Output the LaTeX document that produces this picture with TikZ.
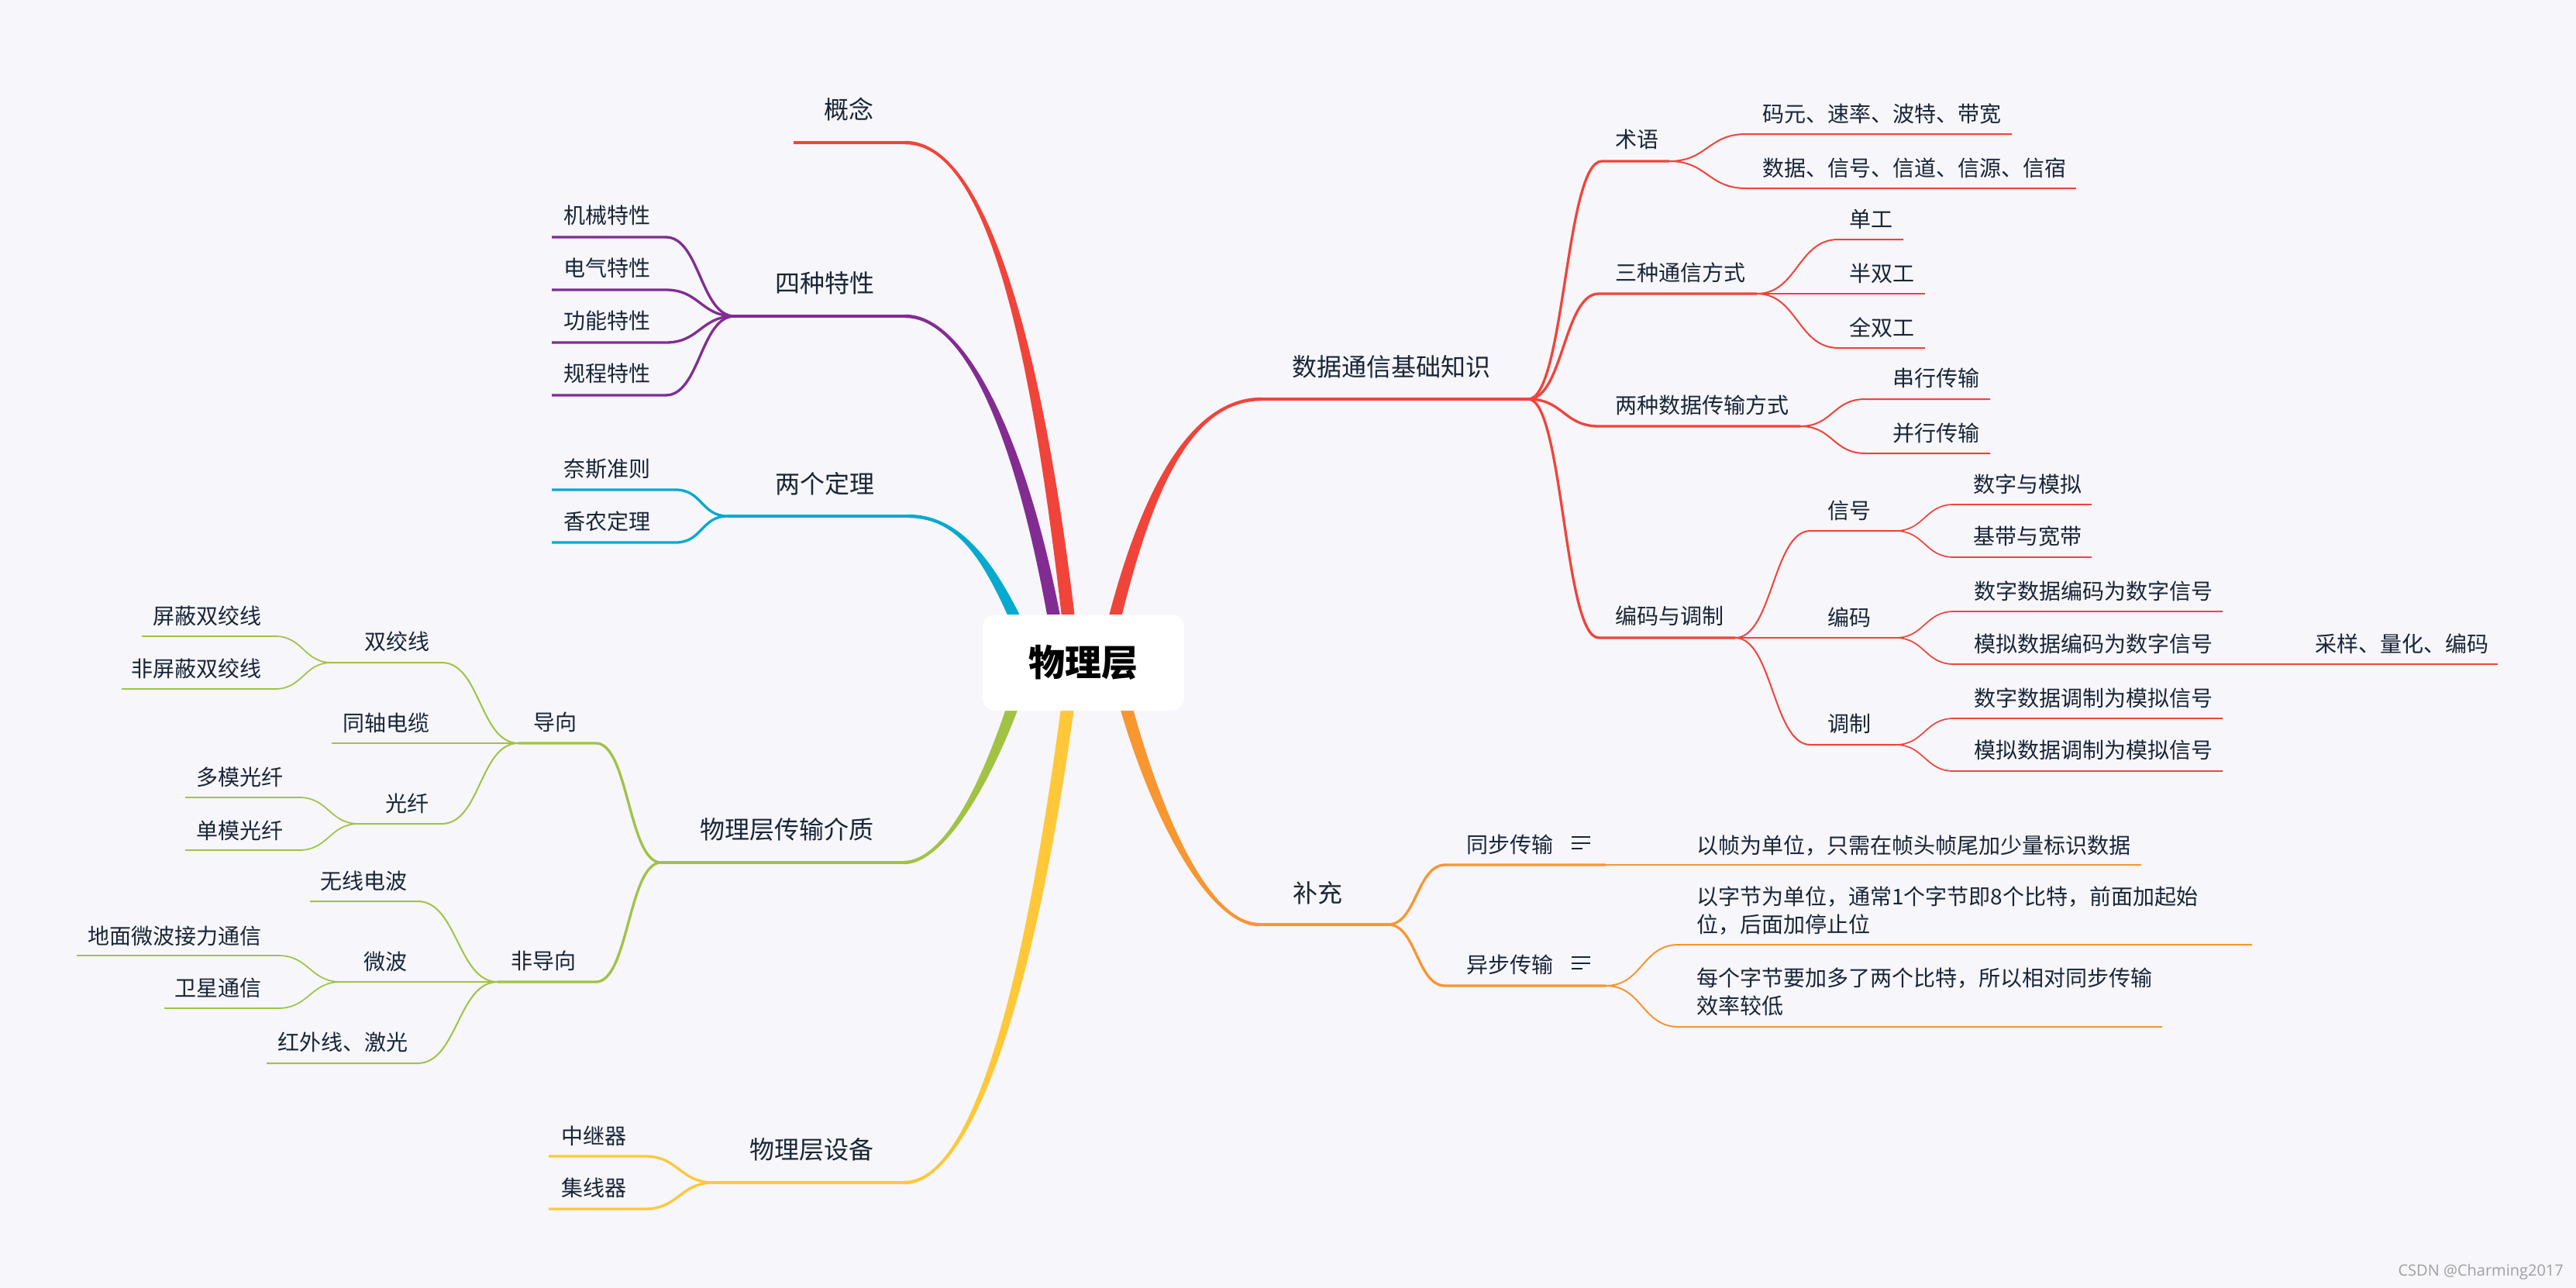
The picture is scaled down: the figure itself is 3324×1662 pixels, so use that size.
\documentclass[tikz,border=0pt]{standalone}
\usepackage{fontspec}
\newfontfamily\cjk{Noto Sans CJK SC}
\newfontfamily\wmfont{Open Sans}
\usetikzlibrary{calc}
\definecolor{bg}{RGB}{246,246,251}
\definecolor{txt}{RGB}{25,37,55}
\definecolor{cred}{RGB}{240,68,58}
\definecolor{cpur}{RGB}{130,44,146}
\definecolor{ccya}{RGB}{6,170,206}
\definecolor{cgrn}{RGB}{162,194,68}
\definecolor{cyel}{RGB}{255,200,56}
\definecolor{corg}{RGB}{248,150,48}
\definecolor{wmc}{RGB}{160,160,160}
\def\tbA{1}\def\tbB{1}
\newcommand\tb[5]{\fill[#1] ($(#2)+(0,\tbA*2.2)$) .. controls ($(#3)+(0,\tbA*2.2)$) and ($(#4)+(\tbB*8.5,0)$) .. ($(#5)+(\tbB*8.5,0)$) -- ($(#5)-(\tbB*8.5,0)$) .. controls ($(#4)-(\tbB*8.5,0)$) and ($(#3)-(0,\tbA*2.2)$) .. ($(#2)-(0,\tbA*2.2)$) -- cycle;}
\begin{document}
\begin{tikzpicture}[x=1pt,y=-1pt,
  t1/.style={font=\cjk\fontsize{32}{40}\selectfont, text=txt, inner sep=0pt},
  t2/.style={font=\cjk\fontsize{28}{36}\selectfont, text=txt, inner sep=0pt},
  rootbox/.style={fill=white, rounded corners=16pt, minimum width=260pt, minimum height=124pt, inner sep=0pt, font=\cjk\bfseries\fontsize{47}{50}\selectfont, text=black},
  w1/.style={line width=4pt},
  w2/.style={line width=3.3pt},
  w3/.style={line width=2pt},
  w4/.style={line width=1.7pt},
  w5/.style={line width=1.5pt},
  scr/.style={to path={.. controls +(#1,0) and +(-#1,0) .. (\tikztotarget)}},
  scl/.style={to path={.. controls +(-#1,0) and +(#1,0) .. (\tikztotarget)}},
  icon/.style={draw=txt, line width=2pt}
]
\useasboundingbox (0,0) rectangle (3324,1662);
\fill[bg] (0,0) rectangle (3324,1662);

% ---------- main branch geometry ----------
\coordinate (gL) at (1024,184);
\coordinate (gA) at (1168,184); \coordinate (gC1) at (1280,184); \coordinate (gC2) at (1345,480); \coordinate (gB) at (1385,855);
\coordinate (pF) at (948,408);
\coordinate (pA) at (1168,408); \coordinate (pC1) at (1255,408); \coordinate (pC2) at (1330,600); \coordinate (pB) at (1370,855);
\coordinate (cF) at (939,666);
\coordinate (cA) at (1171,666); \coordinate (cC1) at (1245,666); \coordinate (cC2) at (1285,735); \coordinate (cB) at (1335,855);
\coordinate (eF) at (853,1113);
\coordinate (eA) at (1166,1113); \coordinate (eC1) at (1230,1113); \coordinate (eC2) at (1295,960); \coordinate (eB) at (1325,855);
\coordinate (yF) at (921,1526);
\coordinate (yA) at (1167,1526); \coordinate (yC1) at (1250,1526); \coordinate (yC2) at (1330,1300); \coordinate (yB) at (1385,855);
\coordinate (rF) at (1972,515);
\coordinate (rA) at (1628,515); \coordinate (rC1) at (1530,515); \coordinate (rC2) at (1470,650); \coordinate (rB) at (1425,855);
\coordinate (oF) at (1791,1193);
\coordinate (oA) at (1625,1193); \coordinate (oC1) at (1560,1193); \coordinate (oC2) at (1485,1050); \coordinate (oB) at (1438,855);

% tapered main branches
\def\tbB{-1}
\tb{ccya}{cA}{cC1}{cC2}{cB}
\tb{cpur}{pA}{pC1}{pC2}{pB}
\tb{cred}{gA}{gC1}{gC2}{gB}
\tb{corg}{oA}{oC1}{oC2}{oB}
\def\tbB{1}
\tb{cgrn}{eA}{eC1}{eC2}{eB}
\tb{cyel}{yA}{yC1}{yC2}{yB}
\tb{cred}{rA}{rC1}{rC2}{rB}

% level-1 underlines
\draw[cred,w1] (gL) -- (gA);
\draw[cpur,w1] (pF) -- (pA);
\draw[ccya,w1] (cF) -- (cA);
\draw[cgrn,w1] (eF) -- (eA);
\draw[cyel,w1] (yF) -- (yA);
\draw[cred,w1] (rA) -- (rF);
\draw[corg,w1] (oA) -- (oF);

% ---------- purple ----------
\coordinate (p1) at (859,306); \coordinate (p1e) at (712,306);
\coordinate (p2) at (859,374); \coordinate (p2e) at (712,374);
\coordinate (p3) at (859,442); \coordinate (p3e) at (712,442);
\coordinate (p4) at (859,510); \coordinate (p4e) at (712,510);
\draw[cpur,w2] (pF) to[scl=44] (p1) -- (p1e);
\draw[cpur,w2] (pF) to[scl=44] (p2) -- (p2e);
\draw[cpur,w2] (pF) to[scl=44] (p3) -- (p3e);
\draw[cpur,w2] (pF) to[scl=44] (p4) -- (p4e);

% ---------- cyan ----------
\coordinate (q1) at (872,632); \coordinate (q1e) at (712,632);
\coordinate (q2) at (872,700); \coordinate (q2e) at (712,700);
\draw[ccya,w2] (cF) to[scl=34] (q1) -- (q1e);
\draw[ccya,w2] (cF) to[scl=34] (q2) -- (q2e);

% ---------- yellow ----------
\coordinate (y1) at (832,1492); \coordinate (y1e) at (708,1492);
\coordinate (y2) at (832,1560); \coordinate (y2e) at (708,1560);
\draw[cyel,w2] (yF) to[scl=44] (y1) -- (y1e);
\draw[cyel,w2] (yF) to[scl=44] (y2) -- (y2e);

% ---------- green ----------
\coordinate (d1) at (769,959); \coordinate (dF) at (669,959);
\coordinate (n1) at (769,1267); \coordinate (nF) at (642,1267);
\draw[cgrn,w2] (eF) to[scl=42] (d1) -- (dF);
\draw[cgrn,w2] (eF) to[scl=42] (n1) -- (nF);
\coordinate (s1) at (570,855); \coordinate (sF) at (428,855);
\coordinate (tz) at (428,959);
\coordinate (g1) at (570,1063); \coordinate (gF) at (463,1063);
\draw[cgrn,w3] (dF) to[scl=50] (s1) -- (sF);
\draw[cgrn,w3] (dF) -- (tz);
\draw[cgrn,w3] (dF) to[scl=50] (g1) -- (gF);
\coordinate (s11) at (355,821); \coordinate (s11e) at (183,821);
\coordinate (s12) at (355,889); \coordinate (s12e) at (157,889);
\draw[cgrn,w4] (sF) to[scl=36] (s11) -- (s11e);
\draw[cgrn,w4] (sF) to[scl=36] (s12) -- (s12e);
\coordinate (g11) at (386,1029); \coordinate (g11e) at (239,1029);
\coordinate (g12) at (386,1097); \coordinate (g12e) at (239,1097);
\draw[cgrn,w4] (gF) to[scl=38] (g11) -- (g11e);
\draw[cgrn,w4] (gF) to[scl=38] (g12) -- (g12e);
\coordinate (wx) at (539,1163); \coordinate (wxe) at (400,1163);
\coordinate (mF) at (440,1267);
\coordinate (ir) at (539,1372); \coordinate (ire) at (344,1372);
\draw[cgrn,w3] (nF) to[scl=51] (wx) -- (wxe);
\draw[cgrn,w3] (nF) -- (mF);
\draw[cgrn,w3] (nF) to[scl=51] (ir) -- (ire);
\coordinate (m1) at (359,1233); \coordinate (m1e) at (99,1233);
\coordinate (m2) at (359,1301); \coordinate (m2e) at (212,1301);
\draw[cgrn,w4] (mF) to[scl=40] (m1) -- (m1e);
\draw[cgrn,w4] (mF) to[scl=40] (m2) -- (m2e);

% ---------- red right ----------
\coordinate (a1) at (2067,208); \coordinate (aF) at (2154,208);
\coordinate (b1) at (2063,379); \coordinate (bF) at (2267,379);
\coordinate (c1) at (2063,550); \coordinate (cF2) at (2323,550);
\coordinate (e1) at (2063,823); \coordinate (eF2) at (2239,823);
\draw[cred,w2] (rF) to[scr=47] (a1) -- (aF);
\draw[cred,w2] (rF) to[scr=45] (b1) -- (bF);
\draw[cred,w2] (rF) to[scr=45] (c1) -- (cF2);
\draw[cred,w2] (rF) to[scr=45] (e1) -- (eF2);
\coordinate (a11) at (2253,173); \coordinate (a11e) at (2596,173);
\coordinate (a12) at (2253,243); \coordinate (a12e) at (2679,243);
\draw[cred,w3] (aF) to[scr=49] (a11) -- (a11e);
\draw[cred,w3] (aF) to[scr=49] (a12) -- (a12e);
\coordinate (b11) at (2372,309); \coordinate (b11e) at (2456,309);
\coordinate (b12e) at (2484,379);
\coordinate (b13) at (2372,449); \coordinate (b13e) at (2484,449);
\draw[cred,w3] (bF) to[scr=52] (b11) -- (b11e);
\draw[cred,w3] (bF) -- (b12e);
\draw[cred,w3] (bF) to[scr=52] (b13) -- (b13e);
\coordinate (c11) at (2407,515); \coordinate (c11e) at (2568,515);
\coordinate (c12) at (2407,585); \coordinate (c12e) at (2568,585);
\draw[cred,w3] (cF2) to[scr=42] (c11) -- (c11e);
\draw[cred,w3] (cF2) to[scr=42] (c12) -- (c12e);
\coordinate (h1) at (2336,685); \coordinate (hF) at (2446,685);
\coordinate (kF) at (2446,823);
\coordinate (j1) at (2336,961); \coordinate (jF) at (2446,961);
\draw[cred,w3] (eF2) to[scr=48] (h1) -- (hF);
\draw[cred,w3] (eF2) -- (kF);
\draw[cred,w3] (eF2) to[scr=48] (j1) -- (jF);
\coordinate (h11) at (2521,651); \coordinate (h11e) at (2699,651);
\coordinate (h12) at (2521,719); \coordinate (h12e) at (2699,719);
\draw[cred,w4] (hF) to[scr=37] (h11) -- (h11e);
\draw[cred,w4] (hF) to[scr=37] (h12) -- (h12e);
\coordinate (k11) at (2521,789); \coordinate (k11e) at (2868,789);
\coordinate (k12) at (2521,857); \coordinate (k12e) at (2868,857);
\coordinate (k12f) at (3223,857);
\draw[cred,w4] (kF) to[scr=37] (k11) -- (k11e);
\draw[cred,w4] (kF) to[scr=37] (k12) -- (k12e);
\draw[cred,w5] (k12e) -- (k12f);
\coordinate (j11) at (2521,927); \coordinate (j11e) at (2868,927);
\coordinate (j12) at (2521,995); \coordinate (j12e) at (2868,995);
\draw[cred,w4] (jF) to[scr=37] (j11) -- (j11e);
\draw[cred,w4] (jF) to[scr=37] (j12) -- (j12e);

% ---------- orange ----------
\coordinate (t1c) at (1865,1116); \coordinate (tF) at (2072,1116); \coordinate (t1e) at (2763,1116);
\coordinate (u1) at (1865,1272); \coordinate (uF) at (2072,1272);
\draw[corg,w2] (oF) to[scr=37] (t1c) -- (tF);
\draw[corg,w3] (tF) -- (t1e);
\draw[corg,w2] (oF) to[scr=37] (u1) -- (uF);
\coordinate (u11) at (2166,1219); \coordinate (u11e) at (2906,1219);
\coordinate (u12) at (2166,1325); \coordinate (u12e) at (2790,1325);
\draw[corg,w3] (uF) to[scr=47] (u11) -- (u11e);
\draw[corg,w3] (uF) to[scr=47] (u12) -- (u12e);

% ---------- root ----------
\node[rootbox] (root) at (1398,855) {物理层};

% ---------- level-1 labels ----------
\node[t1] (ngn) at (1095,141) {概念};
\node[t1] (n4t) at (1064.5,365) {四种特性};
\node[t1] (n2d) at (1064.5,624) {两个定理};
\node[t1] (ncz) at (1015,1070) {物理层传输介质};
\node[t1] (nsb) at (1047,1483) {物理层设备};
\node[t1] (nsj) at (1795,473) {数据通信基础知识};
\node[t1] (nbc) at (1700,1152) {补充};

% ---------- left labels ----------
\node[t2] (l1) at (783.5,278) {机械特性};
\node[t2] (l2) at (783.5,346) {电气特性};
\node[t2] (l3) at (783.5,414) {功能特性};
\node[t2] (l4) at (783.5,482) {规程特性};
\node[t2] (l5) at (783.5,605) {奈斯准则};
\node[t2] (l6) at (783.5,673) {香农定理};
\node[t2] (l7) at (766,1466) {中继器};
\node[t2] (l8) at (766,1533) {集线器};
\node[t2] (l9) at (716,932) {导向};
\node[t2] (l10) at (701.5,1240) {非导向};
\node[t2] (l11) at (512,828) {双绞线};
\node[t2] (l12) at (498.5,933) {同轴电缆};
\node[t2] (l13) at (525.5,1037) {光纤};
\node[t2] (l14) at (267.5,795) {屏蔽双绞线};
\node[t2] (l15) at (253,863) {非屏蔽双绞线};
\node[t2] (l16) at (309.5,1003) {多模光纤};
\node[t2] (l17) at (309.5,1072) {单模光纤};
\node[t2] (l18) at (469.5,1137) {无线电波};
\node[t2] (l19) at (497.5,1241) {微波};
\node[t2] (l20) at (442,1345) {红外线、激光};
\node[t2] (l21) at (225,1208) {地面微波接力通信};
\node[t2] (l22) at (281.5,1275) {卫星通信};

% ---------- right labels ----------
\node[t2] (r1) at (2112,180) {术语};
\node[t2] (r2) at (2428,147) {码元、速率、波特、带宽};
\node[t2] (r3) at (2470,217) {数据、信号、信道、信源、信宿};
\node[t2] (r4) at (2168.5,352) {三种通信方式};
\node[t2] (r5) at (2414,283) {单工};
\node[t2] (r6) at (2428,353) {半双工};
\node[t2] (r7) at (2428,423) {全双工};
\node[t2] (r8) at (2196.5,523) {两种数据传输方式};
\node[t2] (r9) at (2498,488) {串行传输};
\node[t2] (r10) at (2498,559) {并行传输};
\node[t2] (r11) at (2154,795) {编码与调制};
\node[t2] (r12) at (2386,659) {信号};
\node[t2] (r13) at (2386,797) {编码};
\node[t2] (r14) at (2386,934) {调制};
\node[t2] (r15) at (2616,625) {数字与模拟};
\node[t2] (r16) at (2616,692) {基带与宽带};
\node[t2] (r17) at (2701,763) {数字数据编码为数字信号};
\node[t2] (r18) at (2701,831) {模拟数据编码为数字信号};
\node[t2] (r19) at (3099,831) {采样、量化、编码};
\node[t2] (r20) at (2701,901) {数字数据调制为模拟信号};
\node[t2] (r21) at (2701,968) {模拟数据调制为模拟信号};

% ---------- orange labels ----------
\node[t2] (o1) at (1948.5,1090) {同步传输};
\node[t2] (o2) at (1948.5,1245) {异步传输};
\node[t2,anchor=west] (o3) at (2189,1091) {以帧为单位，只需在帧头帧尾加少量标识数据};
\node[t2,anchor=west,align=left] (o4) at (2189,1175) {以字节为单位，通常1个字节即8个比特，前面加起始\\位，后面加停止位};
\node[t2,anchor=west,align=left] (o5) at (2189,1280) {每个字节要加多了两个比特，所以相对同步传输\\效率较低};
% note icons
\draw[icon] (2028,1080) -- (2052,1080);
\draw[icon] (2028,1088) -- (2052,1088);
\draw[icon] (2028,1095) -- (2042,1095);
\draw[icon] (2028,1235) -- (2052,1235);
\draw[icon] (2028,1243) -- (2052,1243);
\draw[icon] (2028,1250) -- (2042,1250);

% watermark
\node[anchor=east, inner sep=0pt, font=\wmfont\fontsize{20}{24}\selectfont, text=wmc] (wmk) at (3308,1641) {CSDN @Charming2017};
\end{tikzpicture}
\end{document}
